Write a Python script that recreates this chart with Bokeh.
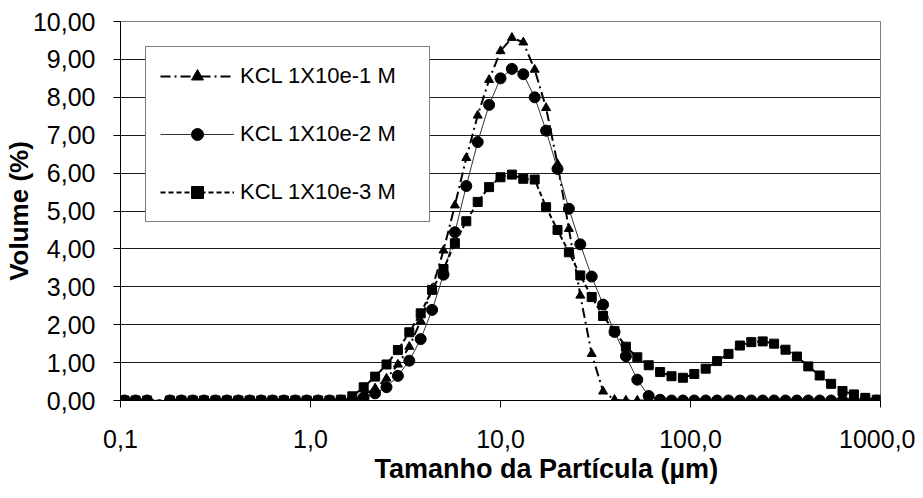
from bokeh.plotting import figure
from bokeh.models import (Range1d, FixedTicker, CustomJSTickFormatter, Legend,
                          LegendItem, Title)
from bokeh.embed import file_html
from bokeh.resources import INLINE

# ---- data ----
sizes_um = [0.105, 0.120, 0.138, 0.182, 0.209, 0.240, 0.275, 0.316, 0.363, 0.417,
            0.479, 0.550, 0.631, 0.724, 0.832, 0.955, 1.096, 1.259, 1.445, 1.660,
            1.905, 2.188, 2.512, 2.884, 3.311, 3.802, 4.365, 5.012, 5.754, 6.607,
            7.586, 8.710, 10.000, 11.482, 13.183, 15.136, 17.378, 19.953, 22.909, 26.303,
            30.200, 34.674, 39.811, 45.709, 52.481, 60.256, 69.183, 79.433, 91.201, 104.713,
            120.226, 138.038, 158.489, 181.970, 208.930, 239.883, 275.423, 316.228, 363.078, 416.869,
            478.630, 549.541, 630.957, 724.436, 831.764, 954.993]

kcl_1e1 = [0, 0, 0, 0, 0, 0, 0, 0, 0, 0,
           0, 0, 0, 0, 0, 0, 0, 0, 0, 0.05,
           0.15, 0.32, 0.58, 0.95, 1.42, 2.10, 2.95, 3.96, 5.15, 6.40,
           7.52, 8.46, 9.22, 9.57, 9.45, 8.73, 7.72, 6.24, 4.53, 2.77,
           1.23, 0.24, 0.02, 0, 0, 0, 0, 0, 0, 0,
           0, 0, 0, 0, 0, 0, 0, 0, 0, 0,
           0, 0, 0, 0, 0, 0]

kcl_1e2 = [0, 0, 0, 0, 0, 0, 0, 0, 0, 0,
           0, 0, 0, 0, 0, 0, 0, 0, 0, 0.02,
           0.08, 0.19, 0.35, 0.65, 1.05, 1.62, 2.39, 3.32, 4.44, 5.66,
           6.82, 7.80, 8.50, 8.75, 8.61, 8.00, 7.12, 6.11, 5.06, 4.12,
           3.27, 2.53, 1.81, 1.17, 0.55, 0.12, 0.02, 0, 0, 0,
           0, 0, 0, 0, 0, 0, 0, 0, 0, 0,
           0, 0, 0, 0, 0, 0]

kcl_1e3 = [0, 0, 0, 0, 0, 0, 0, 0, 0, 0,
           0, 0, 0, 0, 0, 0, 0, 0, 0.02, 0.11,
           0.35, 0.63, 0.95, 1.33, 1.80, 2.30, 2.92, 3.47, 4.15, 4.73,
           5.24, 5.63, 5.89, 5.96, 5.85, 5.83, 5.10, 4.50, 3.91, 3.30,
           2.73, 2.23, 1.83, 1.42, 1.14, 0.93, 0.75, 0.64, 0.60, 0.70,
           0.84, 1.04, 1.23, 1.45, 1.54, 1.56, 1.50, 1.34, 1.16, 0.90,
           0.66, 0.44, 0.25, 0.16, 0.07, 0.02]

series_labels = ["KCL 1X10e-1 M", "KCL 1X10e-2 M", "KCL 1X10e-3 M"]
x_ticks = [0.1, 1, 10, 100, 1000]
y_ticks = [0, 1, 2, 3, 4, 5, 6, 7, 8, 9, 10]
x_title = "Tamanho da Partícula (µm)"
y_title = "Volume (%)"

FONT = "Liberation Sans"

p = figure(width=915, height=490, x_axis_type="log",
           x_range=Range1d(0.1, 1000), y_range=Range1d(0, 10),
           output_backend="svg", toolbar_location=None,
           min_border_left=118, min_border_right=35,
           min_border_top=21, min_border_bottom=90)

p.background_fill_color = "white"
p.border_fill_color = "white"
p.outline_line_color = "#808080"
p.outline_line_width = 1

# grid
p.xgrid.visible = False
p.ygrid.ticker = FixedTicker(ticks=y_ticks[1:-1])
p.ygrid.grid_line_color = "#1a1a1a"
p.ygrid.grid_line_width = 1

# axes
for ax in (p.xaxis[0], p.yaxis[0]):
    ax.axis_line_color = "black"
    ax.axis_line_width = 1
    ax.major_tick_line_color = "black"
    ax.major_tick_out = 7
    ax.major_tick_in = 0
    ax.minor_tick_line_color = None
    ax.major_label_text_font = FONT
    ax.major_label_text_font_size = "25px"
    ax.major_label_text_color = "black"

p.xaxis.ticker = FixedTicker(ticks=x_ticks)
p.yaxis.ticker = FixedTicker(ticks=y_ticks)
p.xaxis.formatter = CustomJSTickFormatter(code="return tick.toFixed(1).replace('.', ',');")
p.yaxis.formatter = CustomJSTickFormatter(code="return tick.toFixed(2).replace('.', ',');")
p.xaxis.major_label_standoff = 22
p.yaxis.major_label_standoff = 18

p.yaxis.axis_label = y_title
p.yaxis.axis_label_text_font = FONT
p.yaxis.axis_label_text_font_style = "bold"
p.yaxis.axis_label_text_font_size = "26px"
p.yaxis.axis_label_text_color = "black"
p.yaxis.axis_label_standoff = -4

# series
l1 = p.line(sizes_um, kcl_1e1, line_color="black", line_width=2, line_dash="10 4 2 4")
s1 = p.scatter(sizes_um, kcl_1e1, marker="triangle", size=9,
               fill_color="black", line_color="black")
l2 = p.line(sizes_um, kcl_1e2, line_color="#333333", line_width=1)
s2 = p.scatter(sizes_um, kcl_1e2, marker="circle", size=11,
               fill_color="black", line_color="black")
l3 = p.line(sizes_um, kcl_1e3, line_color="black", line_width=2, line_dash="5 3")
s3 = p.scatter(sizes_um, kcl_1e3, marker="square", size=9,
               fill_color="black", line_color="black")

legend = Legend(items=[
    LegendItem(label=series_labels[0], renderers=[l1, s1]),
    LegendItem(label=series_labels[1], renderers=[l2, s2]),
    LegendItem(label=series_labels[2], renderers=[l3, s3]),
], location=(25, 178))
legend.border_line_color = "black"
legend.border_line_width = 1
legend.background_fill_color = "white"
legend.background_fill_alpha = 1
legend.label_text_font = FONT
legend.label_text_font_size = "22px"
legend.label_text_color = "black"
legend.glyph_width = 74
legend.glyph_height = 30
legend.label_height = 30
legend.label_width = 175
legend.label_standoff = 6
legend.spacing = 28
legend.padding = 14
legend.margin = 0
p.add_layout(legend)

# x-axis title (offset to the right as in the reference)
xt = Title(text=x_title, align="left", offset=254, standoff=3,
           text_font=FONT, text_font_style="bold", text_font_size="27px",
           text_color="black")
p.add_layout(xt, "below")

open("out.html", "w").write(file_html(p, INLINE))
